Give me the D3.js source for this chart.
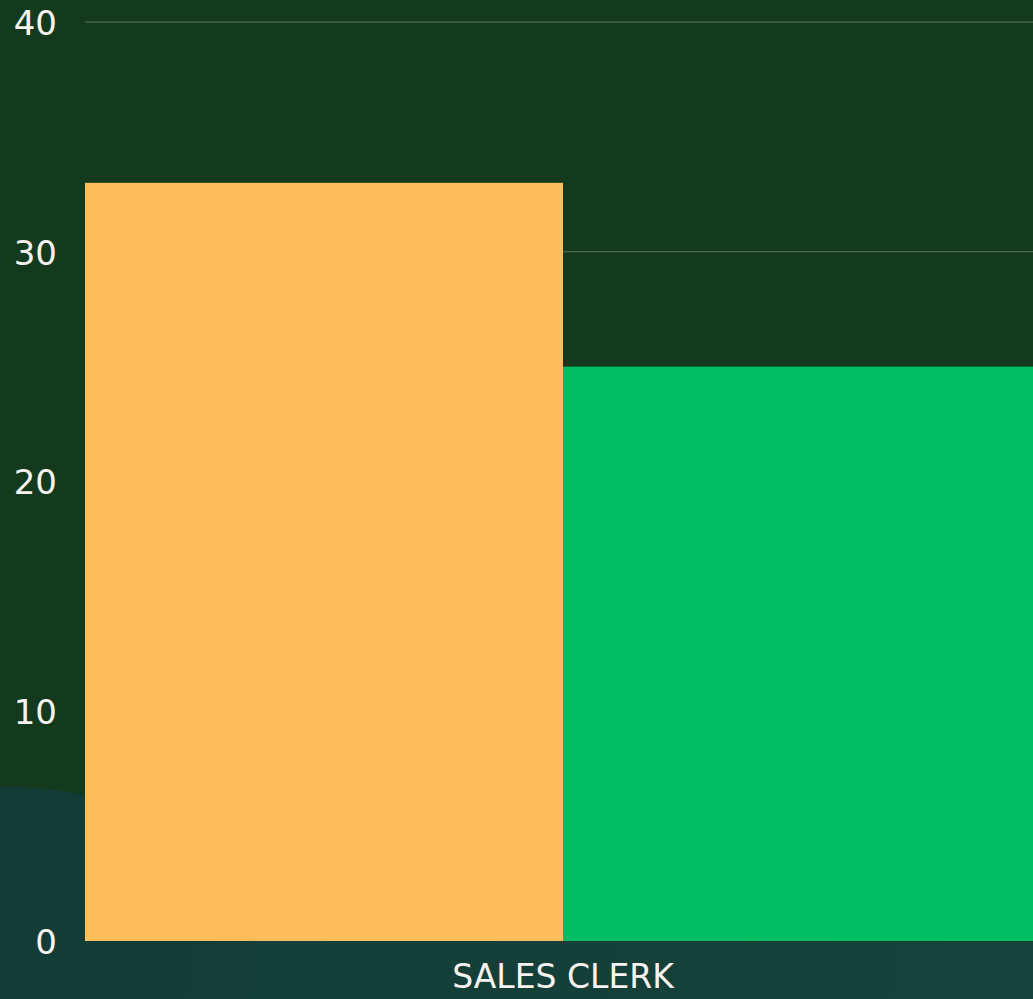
<!DOCTYPE html>
<html>
<head>
<meta charset="utf-8">
<script src="https://cdn.jsdelivr.net/npm/d3@7"></script>
<style>
  html, body { margin: 0; padding: 0; background: #143a1e; overflow: hidden; }
  svg { display: block; }
  .tick text { font-family: "DejaVu Sans", sans-serif; fill: #f7f3f0; }
</style>
</head>
<body>
<svg id="chart" width="1033" height="999"></svg>
<script>
// data
const categories = ["SALES CLERK"];
const seriesNames = ["Group A", "Group B"];
const seriesValues = [[33], [25]];
const seriesColors = ["#febe5c", "#00be63"];
const yTicks = [0, 10, 20, 30, 40];

const svg = d3.select("#chart");
const W = 1033, H = 999;
const margin = { top: 22, left: 85, bottom: 58 };

// background decorations
const defs = svg.append("defs");
const grad = defs.append("linearGradient").attr("id", "bottomGrad");
grad.append("stop").attr("offset", "0%").attr("stop-color", "#133c37");
grad.append("stop").attr("offset", "100%").attr("stop-color", "#16433a");

svg.append("rect").attr("width", W).attr("height", H).attr("fill", "#143a1e");
svg.append("circle").attr("cx", 10).attr("cy", 1117).attr("r", 330).attr("fill", "#133c37");
svg.append("rect")
  .attr("x", 0).attr("y", H - margin.bottom)
  .attr("width", W).attr("height", margin.bottom)
  .attr("fill", "url(#bottomGrad)");

// scales
const x0 = d3.scaleBand().domain(categories).range([margin.left, 1041]).padding(0);
const x1 = d3.scaleBand().domain(seriesNames).range([0, x0.bandwidth()]).padding(0);
const y = d3.scaleLinear().domain([0, 40]).range([H - margin.bottom, margin.top]);

// gridlines
svg.append("g")
  .selectAll("line")
  .data(yTicks.filter(d => d > 0))
  .enter().append("line")
  .attr("x1", margin.left).attr("x2", W)
  .attr("y1", d => y(d)).attr("y2", d => y(d))
  .attr("stroke", "rgba(255,255,255,0.3)")
  .attr("stroke-width", 1);

// bars
const rows = [];
categories.forEach((c, ci) => {
  seriesNames.forEach((s, si) => rows.push({ cat: c, series: s, value: seriesValues[si][ci], color: seriesColors[si] }));
});
svg.append("g")
  .selectAll("rect")
  .data(rows)
  .enter().append("rect")
  .attr("x", d => x0(d.cat) + x1(d.series))
  .attr("y", d => y(d.value))
  .attr("width", x1.bandwidth())
  .attr("height", d => y(0) - y(d.value))
  .attr("fill", d => d.color);

// y axis
const yAxis = svg.append("g")
  .attr("transform", "translate(" + margin.left + ",0)")
  .call(d3.axisLeft(y).tickValues(yTicks).tickSize(0).tickPadding(28));
yAxis.select(".domain").remove();
yAxis.selectAll("text").attr("font-size", 34).attr("dy", "0.36em");

// x axis
const xAxis = svg.append("g")
  .attr("transform", "translate(0," + y(0) + ")")
  .call(d3.axisBottom(x0).tickSize(0).tickPadding(24));
xAxis.select(".domain").remove();
xAxis.selectAll("text").attr("font-size", 33).attr("dy", "0.71em");
</script>
</body>
</html>
